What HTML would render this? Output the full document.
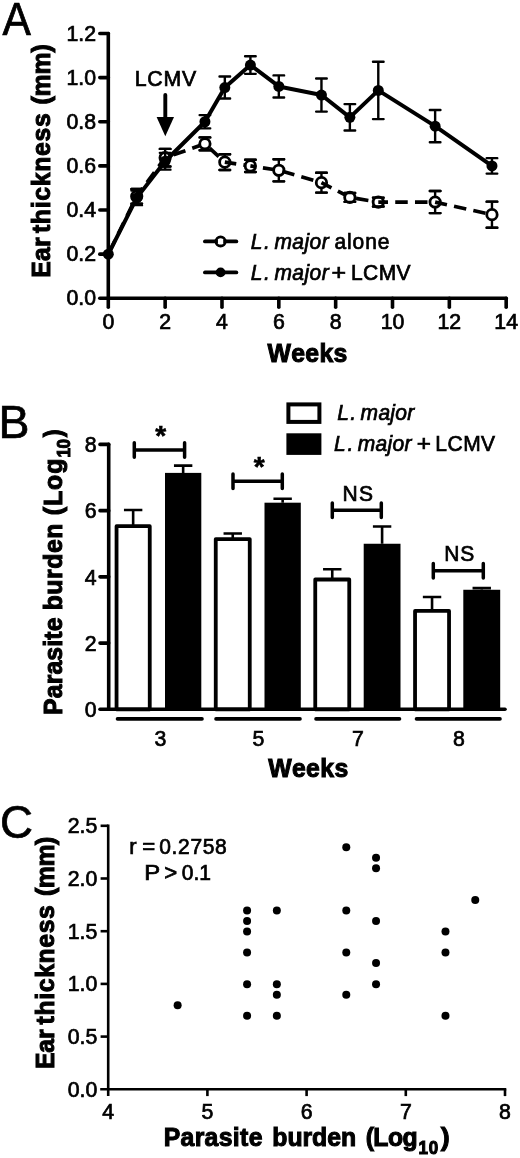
<!DOCTYPE html>
<html lang="en"><head><meta charset="utf-8"><title>Figure</title>
<style>html,body{margin:0;padding:0;background:#fff}svg{display:block}text{font-family:"Liberation Sans", Arial, Helvetica, sans-serif;fill:#000;font-kerning:none}</style></head>
<body>
<svg width="520" height="1158" viewBox="0 0 520 1158">
<rect width="520" height="1158" fill="#fff"/>
<g id="panelA">
<text transform="translate(2.57 34.8) scale(1 1.04)" font-size="44" stroke="#000" stroke-width="0.7" textLength="28.37" lengthAdjust="spacingAndGlyphs">A</text>
<g stroke="#000" stroke-width="3.6" stroke-linecap="round" fill="none">
<path d="M108.3 33.46V307.3"/>
<path d="M99.8 298.3H506.18"/>
<path d="M99.8 254.16H108.3"/>
<path d="M99.8 210.02H108.3"/>
<path d="M99.8 165.88H108.3"/>
<path d="M99.8 121.74H108.3"/>
<path d="M99.8 77.6H108.3"/>
<path d="M99.8 33.46H108.3"/>
<path d="M165.14 298.3V307.3"/>
<path d="M221.98 298.3V307.3"/>
<path d="M278.82 298.3V307.3"/>
<path d="M335.66 298.3V307.3"/>
<path d="M392.5 298.3V307.3"/>
<path d="M449.34 298.3V307.3"/>
<path d="M506.18 298.3V307.3"/>
</g>
<g font-size="21.3" text-anchor="end" stroke="#000" stroke-width="0.7">
<text transform="translate(96 305.4) scale(1 1.025)">0.0</text>
<text transform="translate(96 261.26) scale(1 1.025)">0.2</text>
<text transform="translate(96 217.12) scale(1 1.025)">0.4</text>
<text transform="translate(96 172.98) scale(1 1.025)">0.6</text>
<text transform="translate(96 128.84) scale(1 1.025)">0.8</text>
<text transform="translate(96 84.7) scale(1 1.025)">1.0</text>
<text transform="translate(96 40.56) scale(1 1.025)">1.2</text>
</g>
<g font-size="21.3" text-anchor="middle" stroke="#000" stroke-width="0.7">
<text transform="translate(108.3 329.3) scale(1 1.025)">0</text>
<text transform="translate(165.14 329.3) scale(1 1.025)">2</text>
<text transform="translate(221.98 329.3) scale(1 1.025)">4</text>
<text transform="translate(278.82 329.3) scale(1 1.025)">6</text>
<text transform="translate(335.66 329.3) scale(1 1.025)">8</text>
<text transform="translate(392.5 329.3) scale(1 1.025)">10</text>
<text transform="translate(449.34 329.3) scale(1 1.025)">12</text>
<text transform="translate(506.18 329.3) scale(1 1.025)">14</text>
</g>
<text transform="translate(49.6 277.66) rotate(-90) scale(1 1.04)" font-size="24.8" font-weight="bold" stroke="#000" stroke-width="1.0" letter-spacing="0.125">Ear</text>
<text transform="translate(49.6 233.1) rotate(-90) scale(1 1.04)" font-size="24.8" font-weight="bold" stroke="#000" stroke-width="1.0" letter-spacing="0.689">thickness</text>
<text transform="translate(49.6 104.54) rotate(-90) scale(1 1.04)" font-size="24.8" font-weight="bold" stroke="#000" stroke-width="1.0" letter-spacing="-0.116">(mm)</text>
<text transform="translate(267.38 361.5) scale(1 1.04)" font-size="24.8" font-weight="bold" stroke="#000" stroke-width="1.0" letter-spacing="0.366">Weeks</text>
<path d="M136.72 189.05V203.62M131.42 189.05H142.02M131.42 203.62H142.02M165.14 148.89V166.54M159.84 148.89H170.44M159.84 166.54H170.44M204.93 137.41V150.21M199.63 137.41H210.23M199.63 150.21H210.23M224.82 154.18V170.07M219.52 154.18H230.12M219.52 170.07H230.12M250.4 159.7V172.06M245.1 159.7H255.7M245.1 172.06H255.7M278.82 159.26V181.33M273.52 159.26H284.12M273.52 181.33H284.12M321.45 172.72V192.58M316.15 172.72H326.75M316.15 192.58H326.75M349.87 193.03V201.85M344.57 193.03H355.17M344.57 201.85H355.17M378.29 197.66V206.49M372.99 197.66H383.59M372.99 206.49H383.59M435.13 191.04V213.11M429.83 191.04H440.43M429.83 213.11H440.43M491.97 201.63V227.68M486.67 201.63H497.27M486.67 227.68H497.27" fill="none" stroke="#000" stroke-width="2.4" stroke-linecap="round"/>
<path d="M108.3 254.16L136.72 196.34" fill="none" stroke="#000" stroke-width="3.7" stroke-dasharray="12.5 7.25" stroke-dashoffset="16.9"/>
<circle cx="136.72" cy="196.34" r="5.2" fill="#fff" stroke="#000" stroke-width="2.8"/>
<path d="M131.42 189.05H142.02M131.42 203.62H142.02" fill="none" stroke="#000" stroke-width="2.4" stroke-linecap="round"/>
<path d="M136.72 196.34L165.14 157.71" fill="none" stroke="#000" stroke-width="3.7" stroke-dasharray="12.5 7.25" stroke-dashoffset="2.33"/>
<circle cx="165.14" cy="157.71" r="5.2" fill="#fff" stroke="#000" stroke-width="2.8"/>
<path d="M159.84 148.89H170.44M159.84 166.54H170.44" fill="none" stroke="#000" stroke-width="2.4" stroke-linecap="round"/>
<path d="M165.14 157.71L204.93 143.81" fill="none" stroke="#000" stroke-width="3.7" stroke-dasharray="12.5 7.25" stroke-dashoffset="10.78"/>
<circle cx="204.93" cy="143.81" r="5.2" fill="#fff" stroke="#000" stroke-width="2.8"/>
<path d="M199.63 137.41H210.23M199.63 150.21H210.23" fill="none" stroke="#000" stroke-width="2.4" stroke-linecap="round"/>
<path d="M204.93 143.81L224.82 162.13" fill="none" stroke="#000" stroke-width="3.7" stroke-dasharray="12.5 7.25" stroke-dashoffset="13.43"/>
<circle cx="224.82" cy="162.13" r="5.2" fill="#fff" stroke="#000" stroke-width="2.8"/>
<path d="M219.52 154.18H230.12M219.52 170.07H230.12" fill="none" stroke="#000" stroke-width="2.4" stroke-linecap="round"/>
<path d="M224.82 162.13L250.4 165.88" fill="none" stroke="#000" stroke-width="3.7" stroke-dasharray="12.5 7.25" stroke-dashoffset="0.97"/>
<circle cx="250.4" cy="165.88" r="5.2" fill="#fff" stroke="#000" stroke-width="2.8"/>
<path d="M245.1 159.7H255.7M245.1 172.06H255.7" fill="none" stroke="#000" stroke-width="2.4" stroke-linecap="round"/>
<path d="M250.4 165.88L278.82 170.29" fill="none" stroke="#000" stroke-width="3.7" stroke-dasharray="12.5 7.25" stroke-dashoffset="7.07"/>
<circle cx="278.82" cy="170.29" r="5.2" fill="#fff" stroke="#000" stroke-width="2.8"/>
<path d="M273.52 159.26H284.12M273.52 181.33H284.12" fill="none" stroke="#000" stroke-width="2.4" stroke-linecap="round"/>
<path d="M278.82 170.29L321.45 182.65" fill="none" stroke="#000" stroke-width="3.7" stroke-dasharray="12.5 7.25" stroke-dashoffset="16.09"/>
<circle cx="321.45" cy="182.65" r="5.2" fill="#fff" stroke="#000" stroke-width="2.8"/>
<path d="M316.15 172.72H326.75M316.15 192.58H326.75" fill="none" stroke="#000" stroke-width="2.4" stroke-linecap="round"/>
<path d="M321.45 182.65L349.87 197.44" fill="none" stroke="#000" stroke-width="3.7" stroke-dasharray="12.5 7.25" stroke-dashoffset="1.22"/>
<circle cx="349.87" cy="197.44" r="5.2" fill="#fff" stroke="#000" stroke-width="2.8"/>
<path d="M344.57 193.03H355.17M344.57 201.85H355.17" fill="none" stroke="#000" stroke-width="2.4" stroke-linecap="round"/>
<path d="M349.87 197.44L378.29 202.07" fill="none" stroke="#000" stroke-width="3.7" stroke-dasharray="12.5 7.25" stroke-dashoffset="13.51"/>
<circle cx="378.29" cy="202.07" r="5.2" fill="#fff" stroke="#000" stroke-width="2.8"/>
<path d="M372.99 197.66H383.59M372.99 206.49H383.59" fill="none" stroke="#000" stroke-width="2.4" stroke-linecap="round"/>
<path d="M378.29 202.07L435.13 202.07" fill="none" stroke="#000" stroke-width="3.7" stroke-dasharray="12.5 7.25" stroke-dashoffset="2.8"/>
<circle cx="435.13" cy="202.07" r="5.2" fill="#fff" stroke="#000" stroke-width="2.8"/>
<path d="M429.83 191.04H440.43M429.83 213.11H440.43" fill="none" stroke="#000" stroke-width="2.4" stroke-linecap="round"/>
<path d="M435.13 202.07L491.97 214.65" fill="none" stroke="#000" stroke-width="3.7" stroke-dasharray="12.5 7.25" stroke-dashoffset="0.39"/>
<circle cx="491.97" cy="214.65" r="5.2" fill="#fff" stroke="#000" stroke-width="2.8"/>
<path d="M486.67 201.63H497.27M486.67 227.68H497.27" fill="none" stroke="#000" stroke-width="2.4" stroke-linecap="round"/>
<path d="M136.72 190.6V205.16M131.42 190.6H142.02M131.42 205.16H142.02M165.14 152.86V169.63M159.84 152.86H170.44M159.84 169.63H170.44M204.93 115.12V128.36M199.63 115.12H210.23M199.63 128.36H210.23M224.82 76.5V98.57M219.52 76.5H230.12M219.52 98.57H230.12M250.4 56.19V73.85M245.1 56.19H255.7M245.1 73.85H255.7M278.82 75.39V97.46M273.52 75.39H284.12M273.52 97.46H284.12M321.45 78.48V111.59M316.15 78.48H326.75M316.15 111.59H326.75M349.87 104.08V130.57M344.57 104.08H355.17M344.57 130.57H355.17M378.29 61.71V119.09M372.99 61.71H383.59M372.99 119.09H383.59M435.13 110.04V142.27M429.83 110.04H440.43M429.83 142.27H440.43M491.97 158.16V173.6M486.67 158.16H497.27M486.67 173.6H497.27" fill="none" stroke="#000" stroke-width="2.4" stroke-linecap="round"/>
<polyline points="108.3,254.16 136.72,197.88 165.14,161.25 204.93,121.74 224.82,87.53 250.4,65.02 278.82,86.43 321.45,95.04 349.87,117.33 378.29,90.4 435.13,126.15 491.97,165.88" fill="none" stroke="#000" stroke-width="4" stroke-linejoin="round"/>
<circle cx="108.3" cy="254.16" r="5.5" fill="#000"/>
<circle cx="136.72" cy="197.88" r="5.5" fill="#000"/>
<circle cx="165.14" cy="161.25" r="5.5" fill="#000"/>
<circle cx="204.93" cy="121.74" r="5.5" fill="#000"/>
<circle cx="224.82" cy="87.53" r="5.5" fill="#000"/>
<circle cx="250.4" cy="65.02" r="5.5" fill="#000"/>
<circle cx="278.82" cy="86.43" r="5.5" fill="#000"/>
<circle cx="321.45" cy="95.04" r="5.5" fill="#000"/>
<circle cx="349.87" cy="117.33" r="5.5" fill="#000"/>
<circle cx="378.29" cy="90.4" r="5.5" fill="#000"/>
<circle cx="435.13" cy="126.15" r="5.5" fill="#000"/>
<circle cx="491.97" cy="165.88" r="5.5" fill="#000"/>
<text transform="translate(134.7 85.8) scale(1 1.04)" font-size="21.3" stroke="#000" stroke-width="0.7" letter-spacing="0.788">LCMV</text>
<path d="M165.3 95V120" stroke="#000" stroke-width="3.9" stroke-linecap="round" fill="none"/>
<path d="M156.6 117H174L165.3 136.3Z" fill="#000"/>
<g stroke="#000" stroke-width="3.9" stroke-linecap="round"><path d="M205 241.4H236.3"/><path d="M205 272.4H236.3"/></g>
<circle cx="220.6" cy="241.4" r="4.6" fill="#fff" stroke="#000" stroke-width="2.8"/>
<path d="M214.5 241.4h3.4M223.3 241.4h3.4" stroke="#000" stroke-width="3.2"/>
<circle cx="220.6" cy="272.4" r="4.9" fill="#000"/>
<text transform="translate(250.8 248.5) scale(1 1.04)" font-size="21" font-style="italic" stroke="#000" stroke-width="0.7" letter-spacing="1.406">L.</text>
<text transform="translate(274.4 248.5) scale(1 1.04)" font-size="21" font-style="italic" stroke="#000" stroke-width="0.7" letter-spacing="0.458">major</text>
<text transform="translate(334.46 248.5) scale(1 1.04)" font-size="21" stroke="#000" stroke-width="0.7" letter-spacing="0.911">alone</text>
<text transform="translate(250.8 279.7) scale(1 1.04)" font-size="21" font-style="italic" stroke="#000" stroke-width="0.7" letter-spacing="1.406">L.</text>
<text transform="translate(274.4 279.7) scale(1 1.04)" font-size="21" font-style="italic" stroke="#000" stroke-width="0.7" letter-spacing="0.458">major</text>
<text transform="translate(331.43 279.7) scale(1 1.04)" font-size="21" stroke="#000" stroke-width="0.7" textLength="14.54" lengthAdjust="spacingAndGlyphs">+</text>
<text transform="translate(351.03 279.7) scale(1 1.04)" font-size="21" stroke="#000" stroke-width="0.7" letter-spacing="0.423">LCMV</text>
</g>
<g id="panelB">
<text transform="translate(-1.56 438.1) scale(1 1.04)" font-size="44" stroke="#000" stroke-width="0.7" textLength="30.95" lengthAdjust="spacingAndGlyphs">B</text>
<path d="M133.15 526.2V509.98M123.95 509.98H142.35" stroke="#000" stroke-width="2.6" fill="none"/>
<rect x="116.55" y="526.2" width="33.2" height="183.1" fill="#fff" stroke="#000" stroke-width="3.8" stroke-linejoin="round"/>
<path d="M183.15 472.89V465.61M173.95 465.61H192.35" stroke="#000" stroke-width="2.6" fill="none"/>
<rect x="165" y="472.89" width="36.3" height="236.41" fill="#000"/>
<path d="M232.75 539.11V533.49M223.55 533.49H241.95" stroke="#000" stroke-width="2.6" fill="none"/>
<rect x="215.75" y="539.11" width="34" height="170.19" fill="#fff" stroke="#000" stroke-width="3.8" stroke-linejoin="round"/>
<path d="M282.65 502.69V498.72M273.45 498.72H291.85" stroke="#000" stroke-width="2.6" fill="none"/>
<rect x="264.5" y="502.69" width="36.3" height="206.61" fill="#000"/>
<path d="M332.25 579.51V569.24M323.05 569.24H341.45" stroke="#000" stroke-width="2.6" fill="none"/>
<rect x="315.25" y="579.51" width="34" height="129.79" fill="#fff" stroke="#000" stroke-width="3.8" stroke-linejoin="round"/>
<path d="M382.1 543.75V526.53M372.9 526.53H391.3" stroke="#000" stroke-width="2.6" fill="none"/>
<rect x="363.7" y="543.75" width="36.8" height="165.55" fill="#000"/>
<path d="M432.05 610.96V597.06M422.85 597.06H441.25" stroke="#000" stroke-width="2.6" fill="none"/>
<rect x="415.05" y="610.96" width="34" height="98.34" fill="#fff" stroke="#000" stroke-width="3.8" stroke-linejoin="round"/>
<path d="M481.75 589.77V588.12M472.55 588.12H490.95" stroke="#000" stroke-width="2.6" fill="none"/>
<rect x="463.3" y="589.77" width="36.9" height="119.53" fill="#000"/>
<g stroke="#000" stroke-width="3.6" stroke-linecap="round" fill="none">
<path d="M108.7 444.42V709.3"/>
<path d="M100 709.3H505"/>
<path d="M100 643.08H108.7"/>
<path d="M100 576.86H108.7"/>
<path d="M100 510.64H108.7"/>
<path d="M100 444.42H108.7"/>
<path d="M117.5 718.9H202"/>
<path d="M216 718.9H300"/>
<path d="M316 718.9H399.5"/>
<path d="M416.5 718.9H500"/>
</g>
<g font-size="21.3" text-anchor="end" stroke="#000" stroke-width="0.7">
<text transform="translate(96.5 717.1) scale(1 1.025)">0</text>
<text transform="translate(96.5 650.88) scale(1 1.025)">2</text>
<text transform="translate(96.5 584.66) scale(1 1.025)">4</text>
<text transform="translate(96.5 518.44) scale(1 1.025)">6</text>
<text transform="translate(96.5 452.22) scale(1 1.025)">8</text>
</g>
<g font-size="21.3" text-anchor="middle" stroke="#000" stroke-width="0.7">
<text transform="translate(160.3 745.7) scale(1 1.025)">3</text>
<text transform="translate(258.4 745.7) scale(1 1.025)">5</text>
<text transform="translate(358 745.7) scale(1 1.025)">7</text>
<text transform="translate(459 745.7) scale(1 1.025)">8</text>
</g>
<text transform="translate(268.18 776.9) scale(1 1.04)" font-size="24.8" font-weight="bold" stroke="#000" stroke-width="1.0" letter-spacing="0.366">Weeks</text>
<text transform="translate(62.3 714.96) rotate(-90) scale(1 1.04)" font-size="24.8" font-weight="bold" stroke="#000" stroke-width="1.0" letter-spacing="0.128">Parasite</text>
<text transform="translate(62.3 610.33) rotate(-90) scale(1 1.04)" font-size="24.8" font-weight="bold" stroke="#000" stroke-width="1.0" letter-spacing="0.547">burden</text>
<text transform="translate(62.3 515.34) rotate(-90) scale(1 1.04)" font-size="24.8" font-weight="bold" stroke="#000" stroke-width="1.0" letter-spacing="1.030">(Log</text>
<text transform="translate(70 457.47) rotate(-90) scale(1 1.04)" font-size="17" font-weight="bold" stroke="#000" stroke-width="1.0" letter-spacing="-0.441">10</text>
<text transform="translate(62.3 437.22) rotate(-90) scale(1 1.04)" font-size="24.8" font-weight="bold" stroke="#000" stroke-width="1.0" textLength="7.91" lengthAdjust="spacingAndGlyphs">)</text>
<g stroke="#000" stroke-width="3.5" stroke-linecap="round" fill="none">
<path d="M134.3 450H184.6M134.3 442.8V457.2M184.6 442.8V457.2"/>
<path d="M233 481.3H282.3M233 474.1V488.5M282.3 474.1V488.5"/>
<path d="M332.3 510.3H381.3M332.3 503.1V517.5M381.3 503.1V517.5"/>
<path d="M433.3 570.8H483.3M433.3 563.5999999999999V578.0M483.3 563.5999999999999V578.0"/>
</g>
<g font-size="21.3" text-anchor="middle" stroke="#000" stroke-width="0.7">
<text transform="translate(342.38 501.3) scale(1 1.04)" font-size="21" stroke="#000" stroke-width="0.7" letter-spacing="1.564" text-anchor="start">NS</text>
<text transform="translate(444.13 561.3) scale(1 1.04)" font-size="21" stroke="#000" stroke-width="0.7" letter-spacing="1.064" text-anchor="start">NS</text>
</g>
<g font-size="28" font-weight="bold" text-anchor="middle" stroke="#000" stroke-width="0.6">
<text x="160.7" y="445.2">*</text>
<text x="259.2" y="476.4">*</text>
</g>
<rect x="288.4" y="404.4" width="31" height="17.5" fill="#fff" stroke="#000" stroke-width="4"/>
<rect x="286.4" y="433.3" width="35" height="21.6" fill="#000"/>
<text transform="translate(337.2 420.4) scale(1 1.04)" font-size="21" font-style="italic" stroke="#000" stroke-width="0.7" letter-spacing="1.306">L.</text>
<text transform="translate(360.6 420.4) scale(1 1.04)" font-size="21" font-style="italic" stroke="#000" stroke-width="0.7" letter-spacing="0.308">major</text>
<text transform="translate(333.9 451) scale(1 1.04)" font-size="21" font-style="italic" stroke="#000" stroke-width="0.7" letter-spacing="1.806">L.</text>
<text transform="translate(357.7 451) scale(1 1.04)" font-size="21" font-style="italic" stroke="#000" stroke-width="0.7" letter-spacing="0.308">major</text>
<text transform="translate(416.66 451) scale(1 1.04)" font-size="21" stroke="#000" stroke-width="0.7" textLength="14.18" lengthAdjust="spacingAndGlyphs">+</text>
<text transform="translate(435.33 451) scale(1 1.04)" font-size="21" stroke="#000" stroke-width="0.7" letter-spacing="0.490">LCMV</text>
</g>
<g id="panelC">
<text transform="translate(-0.07 838) scale(1 1.04)" font-size="45" stroke="#000" stroke-width="0.7" textLength="32.96" lengthAdjust="spacingAndGlyphs">C</text>
<g stroke="#000" stroke-width="2.6" stroke-linecap="butt" fill="none">
<path d="M108.2 824.5V1096.1"/>
<path d="M100.2 1089.3H506.3"/>
<path d="M100.60000000000001 1036.6H108.2"/>
<path d="M100.60000000000001 983.9H108.2"/>
<path d="M100.60000000000001 931.2H108.2"/>
<path d="M100.60000000000001 878.5H108.2"/>
<path d="M100.60000000000001 825.8H108.2"/>
<path d="M207.4 1089.3V1096.1"/>
<path d="M306.6 1089.3V1096.1"/>
<path d="M405.8 1089.3V1096.1"/>
<path d="M505 1089.3V1096.1"/>
</g>
<g font-size="21.3" text-anchor="end" stroke="#000" stroke-width="0.7">
<text transform="translate(97.3 1096.8) scale(1 1.025)">0.0</text>
<text transform="translate(97.3 1044.1) scale(1 1.025)">0.5</text>
<text transform="translate(97.3 991.4) scale(1 1.025)">1.0</text>
<text transform="translate(97.3 938.7) scale(1 1.025)">1.5</text>
<text transform="translate(97.3 886) scale(1 1.025)">2.0</text>
<text transform="translate(97.3 833.3) scale(1 1.025)">2.5</text>
</g>
<g font-size="21.3" text-anchor="middle" stroke="#000" stroke-width="0.7">
<text transform="translate(108.2 1118.8) scale(1 1.025)">4</text>
<text transform="translate(207.4 1118.8) scale(1 1.025)">5</text>
<text transform="translate(306.6 1118.8) scale(1 1.025)">6</text>
<text transform="translate(405.8 1118.8) scale(1 1.025)">7</text>
<text transform="translate(505 1118.8) scale(1 1.025)">8</text>
</g>
<text transform="translate(54 1069.06) rotate(-90) scale(1 1.04)" font-size="24.8" font-weight="bold" stroke="#000" stroke-width="1.0" letter-spacing="-0.125">Ear</text>
<text transform="translate(54 1024.4) rotate(-90) scale(1 1.04)" font-size="24.8" font-weight="bold" stroke="#000" stroke-width="1.0" letter-spacing="0.614">thickness</text>
<text transform="translate(54 895.94) rotate(-90) scale(1 1.04)" font-size="24.8" font-weight="bold" stroke="#000" stroke-width="1.0" letter-spacing="-0.483">(mm)</text>
<text transform="translate(163.64 1145.8) scale(1 1.04)" font-size="24.8" font-weight="bold" stroke="#000" stroke-width="1.0" letter-spacing="0.328">Parasite</text>
<text transform="translate(272.37 1145.8) scale(1 1.04)" font-size="24.8" font-weight="bold" stroke="#000" stroke-width="1.0" letter-spacing="-0.073">burden</text>
<text transform="translate(365.66 1145.8) scale(1 1.04)" font-size="24.8" font-weight="bold" stroke="#000" stroke-width="1.0" letter-spacing="-0.570">(Log</text>
<text transform="translate(418.43 1154) scale(1 1.04)" font-size="17" font-weight="bold" stroke="#000" stroke-width="1.0" letter-spacing="0.859">10</text>
<text transform="translate(440.67 1145.8) scale(1 1.04)" font-size="24.8" font-weight="bold" stroke="#000" stroke-width="1.0" textLength="8.97" lengthAdjust="spacingAndGlyphs">)</text>
<text transform="translate(129.29 854.3) scale(1 1.04)" font-size="21" stroke="#000" stroke-width="0.7" textLength="7.33" lengthAdjust="spacingAndGlyphs">r</text>
<text transform="translate(142.36 854.3) scale(1 1.04)" font-size="21" stroke="#000" stroke-width="0.7" textLength="12.98" lengthAdjust="spacingAndGlyphs">=</text>
<text transform="translate(159.23 854.3) scale(1 1.04)" font-size="21" stroke="#000" stroke-width="0.7" letter-spacing="0.660">0.2758</text>
<text transform="translate(144.19 879.9) scale(1 1.04)" font-size="21" stroke="#000" stroke-width="0.7" textLength="15.92" lengthAdjust="spacingAndGlyphs">P</text>
<text transform="translate(164.25 879.9) scale(1 1.04)" font-size="21" stroke="#000" stroke-width="0.7" textLength="12.98" lengthAdjust="spacingAndGlyphs">&gt;</text>
<text transform="translate(181.83 879.9) scale(1 1.04)" font-size="21" stroke="#000" stroke-width="0.7" letter-spacing="0.000">0.1</text>
<g fill="#000">
<circle cx="177.64" cy="1005.28" r="4"/>
<circle cx="247.08" cy="910.42" r="4"/>
<circle cx="247.08" cy="920.96" r="4"/>
<circle cx="247.08" cy="931.5" r="4"/>
<circle cx="247.08" cy="952.58" r="4"/>
<circle cx="247.08" cy="984.2" r="4"/>
<circle cx="247.08" cy="1015.82" r="4"/>
<circle cx="276.84" cy="910.42" r="4"/>
<circle cx="276.84" cy="984.2" r="4"/>
<circle cx="276.84" cy="994.74" r="4"/>
<circle cx="276.84" cy="1015.82" r="4"/>
<circle cx="346.28" cy="847.18" r="4"/>
<circle cx="346.28" cy="910.42" r="4"/>
<circle cx="346.28" cy="952.58" r="4"/>
<circle cx="346.28" cy="994.74" r="4"/>
<circle cx="376.04" cy="857.72" r="4"/>
<circle cx="376.04" cy="868.26" r="4"/>
<circle cx="376.04" cy="920.96" r="4"/>
<circle cx="376.04" cy="963.12" r="4"/>
<circle cx="376.04" cy="984.2" r="4"/>
<circle cx="445.48" cy="931.5" r="4"/>
<circle cx="445.48" cy="952.58" r="4"/>
<circle cx="445.48" cy="1015.82" r="4"/>
<circle cx="475.24" cy="899.88" r="4"/>
</g>
</g>
</svg>
</body></html>
